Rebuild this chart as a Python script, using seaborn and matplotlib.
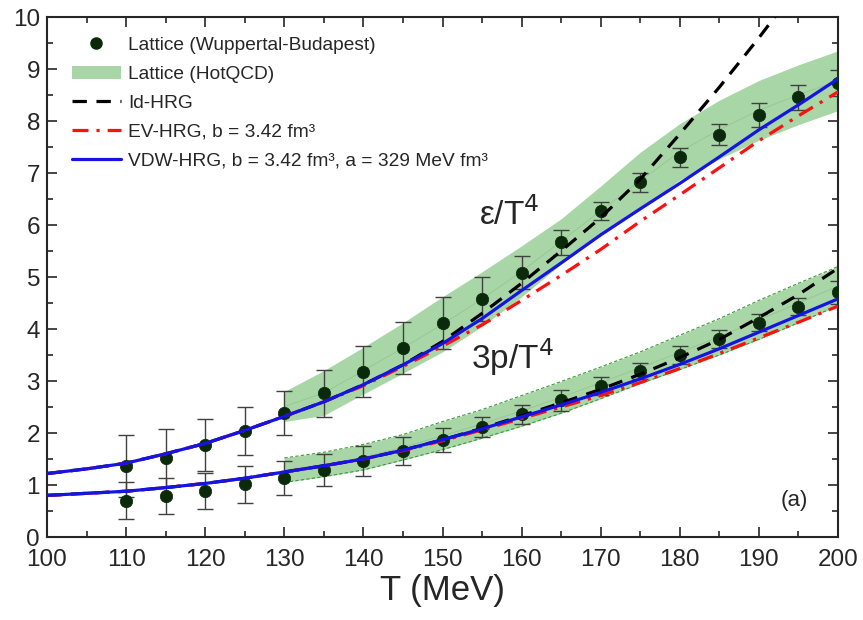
import numpy as np
import pandas as pd
import matplotlib
matplotlib.use("Agg")
import matplotlib.pyplot as plt
import seaborn as sns
from matplotlib.lines import Line2D
from matplotlib.patches import Patch
from matplotlib.ticker import MultipleLocator

# ---------------- data ----------------
# Lattice (Wuppertal-Budapest)
T_wb = [110, 115, 120, 125, 130, 135, 140, 145, 150, 155, 160, 165, 170, 175, 180, 185, 190, 195, 200]
e_wb = [1.36, 1.52, 1.76, 2.04, 2.38, 2.76, 3.18, 3.64, 4.12, 4.58, 5.08, 5.67, 6.27, 6.82, 7.30, 7.74, 8.12, 8.46, 8.74]
e_err = [0.60, 0.55, 0.50, 0.46, 0.42, 0.45, 0.49, 0.50, 0.50, 0.42, 0.32, 0.24, 0.18, 0.18, 0.19, 0.21, 0.23, 0.24, 0.25]
p_wb = [0.70, 0.79, 0.89, 1.01, 1.13, 1.29, 1.46, 1.65, 1.86, 2.11, 2.36, 2.63, 2.90, 3.19, 3.50, 3.81, 4.12, 4.43, 4.71]
p_err = [0.35, 0.35, 0.35, 0.36, 0.33, 0.31, 0.29, 0.27, 0.23, 0.19, 0.18, 0.20, 0.17, 0.16, 0.18, 0.17, 0.16, 0.16, 0.22]

# Lattice (HotQCD) bands
T_hq = [130, 135, 140, 145, 150, 155, 160, 165, 170, 175, 180, 185, 190, 195, 200]
e_hq_lo = [2.22, 2.34, 2.75, 3.15, 3.56, 4.05, 4.62, 5.25, 5.80, 6.30, 6.87, 7.27, 7.63, 7.93, 8.20]
e_hq_hi = [2.80, 3.20, 3.65, 4.12, 4.62, 5.10, 5.60, 6.12, 6.75, 7.40, 7.95, 8.40, 8.78, 9.08, 9.35]
p_hq_lo = [1.05, 1.16, 1.29, 1.48, 1.68, 1.90, 2.13, 2.38, 2.66, 2.95, 3.22, 3.50, 3.80, 4.12, 4.45]
p_hq_hi = [1.52, 1.63, 1.78, 1.97, 2.22, 2.45, 2.72, 2.99, 3.27, 3.56, 3.88, 4.20, 4.55, 4.88, 5.20]

# HRG model curves
T_m = [100, 105, 110, 115, 120, 125, 130, 135, 140, 145, 150, 155, 160, 165, 170, 175, 180, 185, 190, 195, 200]
e_id = [1.22, 1.31, 1.42, 1.60, 1.80, 2.05, 2.32, 2.60, 2.93, 3.31, 3.76, 4.30, 4.88, 5.50, 6.14, 6.88, 7.75, 8.65, 9.60, 10.60, 11.60]
e_ev = [1.22, 1.31, 1.42, 1.60, 1.80, 2.05, 2.32, 2.60, 2.91, 3.28, 3.67, 4.08, 4.55, 5.03, 5.53, 6.07, 6.58, 7.10, 7.62, 8.10, 8.56]
e_vdw = [1.22, 1.31, 1.42, 1.60, 1.80, 2.05, 2.32, 2.60, 2.93, 3.31, 3.72, 4.20, 4.74, 5.27, 5.81, 6.31, 6.80, 7.31, 7.83, 8.31, 8.81]
p_id = [0.80, 0.84, 0.88, 0.95, 1.03, 1.13, 1.25, 1.37, 1.50, 1.67, 1.87, 2.09, 2.33, 2.58, 2.84, 3.13, 3.45, 3.80, 4.22, 4.66, 5.17]
p_ev = [0.80, 0.84, 0.88, 0.95, 1.03, 1.13, 1.25, 1.37, 1.50, 1.66, 1.85, 2.06, 2.28, 2.50, 2.72, 2.97, 3.24, 3.53, 3.83, 4.13, 4.44]
p_vdw = [0.80, 0.84, 0.88, 0.95, 1.03, 1.13, 1.25, 1.37, 1.50, 1.67, 1.87, 2.08, 2.31, 2.54, 2.78, 3.04, 3.32, 3.62, 3.94, 4.26, 4.58]

labels = ["Lattice (Wuppertal-Budapest)", "Lattice (HotQCD)", "Id-HRG",
          "EV-HRG, b = 3.42 fm³", "VDW-HRG, b = 3.42 fm³, a = 329 MeV fm³"]

# ---------------- style ----------------
sns.set_theme(style="ticks")
plt.rcParams['font.family'] = ['Liberation Sans', 'DejaVu Sans']

fig = plt.figure(figsize=(8.63, 6.2), dpi=100)
ax = fig.add_axes([47/863, 1-537/620, (838-47)/863, (537-17)/620])

band_color = '#a9d6a6'
edge_green = '#3a9a3a'
pt_color = '#0b2a0b'
blue = '#1414e6'
red = '#ff1010'

# bands
ax.fill_between(T_hq, e_hq_lo, e_hq_hi, color=band_color, lw=0, zorder=1)
ax.plot(T_hq, (np.array(e_hq_lo) + np.array(e_hq_hi)) / 2, color='#93c790', lw=0.6, zorder=1.1)
ax.fill_between(T_hq, p_hq_lo, p_hq_hi, color=band_color, lw=0, zorder=1)
ax.plot(T_hq, p_hq_lo, color=edge_green, lw=0.8, ls=(0, (3, 2)), zorder=1.2)
ax.plot(T_hq, p_hq_hi, color=edge_green, lw=0.8, ls=(0, (3, 2)), zorder=1.2)
ax.plot(T_hq, (np.array(p_hq_lo) + np.array(p_hq_hi)) / 2, color='#93c790', lw=0.6, zorder=1.1)

# error bars
ax.errorbar(T_wb, e_wb, yerr=e_err, fmt='none', ecolor='0.25', elinewidth=1.0, capsize=6, capthick=1.0, zorder=2)
ax.errorbar(T_wb, p_wb, yerr=p_err, fmt='none', ecolor='0.25', elinewidth=1.0, capsize=6, capthick=1.0, zorder=2)

# points
df_pts = pd.DataFrame({"T": T_wb * 2, "v": e_wb + p_wb})
sns.scatterplot(data=df_pts, x="T", y="v", ax=ax, color=pt_color, s=80, edgecolor=pt_color,
                linewidth=0.5, zorder=3, legend=False)

# model curves
for e, p, col, ls, lw in [(e_id, p_id, 'black', (0, (4.5, 3)), 2.3),
                          (e_ev, p_ev, red, (0, (5, 2.5, 1, 2.5)), 2.3),
                          (e_vdw, p_vdw, blue, '-', 2.3)]:
    sns.lineplot(x=T_m, y=e, ax=ax, color=col, lw=lw, linestyle=ls, zorder=4)
    sns.lineplot(x=T_m, y=p, ax=ax, color=col, lw=lw, linestyle=ls, zorder=4)

# axes
ax.set_xlim(100, 200)
ax.set_ylim(0, 10)
ax.xaxis.set_major_locator(MultipleLocator(10))
ax.xaxis.set_minor_locator(MultipleLocator(5))
ax.yaxis.set_major_locator(MultipleLocator(1))
ax.yaxis.set_minor_locator(MultipleLocator(0.5))
ax.tick_params(which='both', direction='in', top=True, right=True, labelsize=17.5, width=1.2)
ax.tick_params(which='major', length=7)
ax.tick_params(which='minor', length=4)
ax.tick_params(axis='x', pad=9)
ax.tick_params(axis='y', pad=5)
for s in ax.spines.values():
    s.set_linewidth(1.5)
ax.set_xlabel("T (MeV)", fontsize=25, labelpad=2)
ax.set_ylabel("")

ax.text(158.5, 6.2, "ε/T$^4$", fontsize=24, ha='center', va='center')
ax.text(158.8, 3.45, "3p/T$^4$", fontsize=24, ha='center', va='center')
ax.text(194.5, 0.7, "(a)", fontsize=16, ha='center', va='center')

handles = [
    Line2D([], [], marker='o', ls='none', color=pt_color, markersize=8),
    Patch(facecolor=band_color, edgecolor='none'),
    Line2D([], [], color='black', lw=2.3, ls=(0, (4.5, 3))),
    Line2D([], [], color=red, lw=2.3, ls=(0, (5, 2.5, 1, 2.5))),
    Line2D([], [], color=blue, lw=2.3, ls='-'),
]
ax.legend(handles, labels, loc='upper left', bbox_to_anchor=(0.031, 0.962), frameon=False,
          fontsize=13.8, handlelength=2.6, handletextpad=0.35, labelspacing=0.6,
          borderaxespad=0, borderpad=0)

fig.savefig("out.png", dpi=100)
